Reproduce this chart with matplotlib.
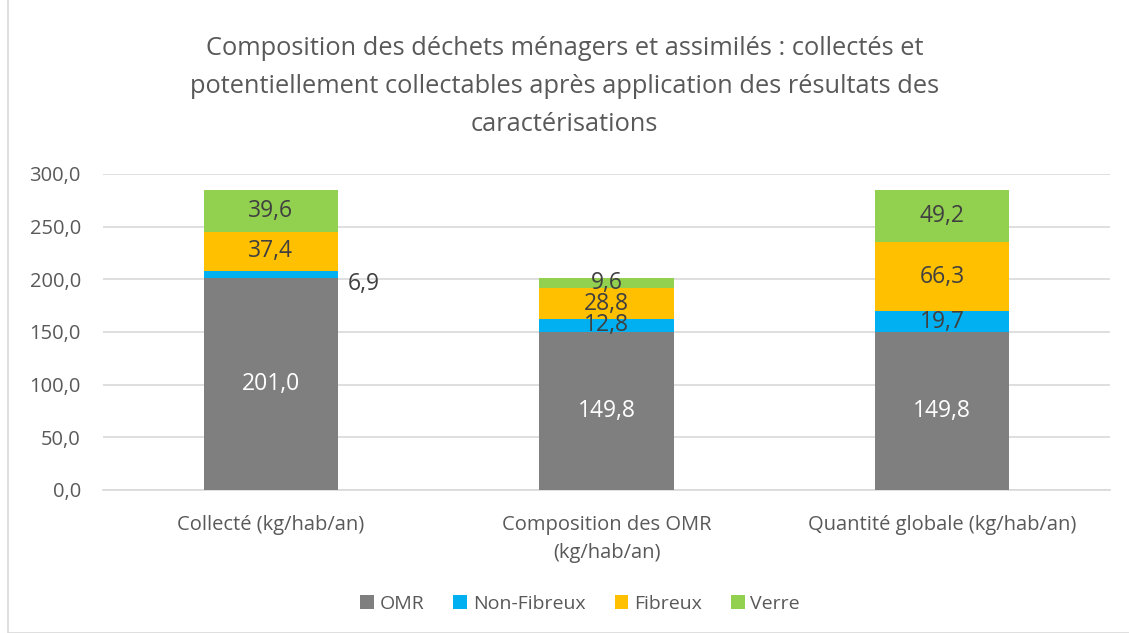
import matplotlib
matplotlib.use("Agg")
import matplotlib.pyplot as plt
from matplotlib.patches import Rectangle

categories = ["Collecté (kg/hab/an)", "Composition des OMR\n(kg/hab/an)", "Quantité globale (kg/hab/an)"]
series_names = ["OMR", "Non-Fibreux", "Fibreux", "Verre"]
omr = [201.0, 149.8, 149.8]
non_fibreux = [6.9, 12.8, 19.7]
fibreux = [37.4, 28.8, 66.3]
verre = [39.6, 9.6, 49.2]
colors = ["#7f7f7f", "#00b0f0", "#ffc000", "#92d050"]
yticks = [0, 50, 100, 150, 200, 250, 300]

plt.rcParams['font.family'] = ['Open Sans', 'DejaVu Sans']

fig = plt.figure(figsize=(11.29, 6.33), dpi=100)
fig.patches.append(Rectangle((8/1129, 0.0), 1.2, 1.2, transform=fig.transFigure,
                             fill=False, edgecolor="#d9d9d9", linewidth=1.2))
ax = fig.add_axes([103/1129, 1-490/633, (1110-103)/1129, (490-174)/633])

x = list(range(len(categories)))
bottom = [0.0]*3
all_series = [omr, non_fibreux, fibreux, verre]
for si, (vals, col, name) in enumerate(zip(all_series, colors, series_names)):
    bars = ax.bar(x, vals, width=0.4, bottom=bottom, color=col, label=name, zorder=3)
    for i, (v, b) in enumerate(zip(vals, bottom)):
        txt = f"{v:.1f}".replace(".", ",")
        tc = "white" if si == 0 else "#404040"
        if si == 1 and i == 0:
            ax.text(i + 0.2 + 0.03, b + v/2 - 9, txt, ha="left", va="center", fontsize=16.5, color=tc, zorder=4)
        else:
            ax.text(i, b + v/2, txt, ha="center", va="center", fontsize=16.5, color=tc, zorder=4)
    bottom = [b + v for b, v in zip(bottom, vals)]

ax.set_xlim(-0.5, 2.5)
ax.set_ylim(0, 300)
ax.set_yticks(yticks)
ax.set_yticklabels([f"{t:.1f}".replace(".", ",") for t in yticks], fontsize=14.5, color="#595959")
ax.set_xticks(x)
ax.set_xticklabels(categories, fontsize=14.5, color="#595959", linespacing=1.55)
ax.tick_params(axis="x", length=0, pad=18)
ax.tick_params(axis="y", length=0, pad=16)
ax.grid(axis="y", color="#d9d9d9", linewidth=1.2, zorder=0)
for s in ["top", "right", "left"]:
    ax.spines[s].set_visible(False)
ax.spines["bottom"].set_color("#d9d9d9")
ax.spines["bottom"].set_linewidth(1.2)

fig.text(0.5, 1-36/633, "Composition des déchets ménagers et assimilés : collectés et\npotentiellement collectables après application des résultats des\ncaractérisations",
         ha="center", va="top", fontsize=18.3, color="#595959", linespacing=1.68)

ax.legend(loc="center", bbox_to_anchor=(580/1129, 1-604/633), bbox_transform=fig.transFigure,
          ncol=4, frameon=False, fontsize=14, handlelength=0.7, handleheight=0.7,
          handletextpad=0.3, columnspacing=1.5, labelcolor="#595959")

fig.savefig("out.png", dpi=100)
